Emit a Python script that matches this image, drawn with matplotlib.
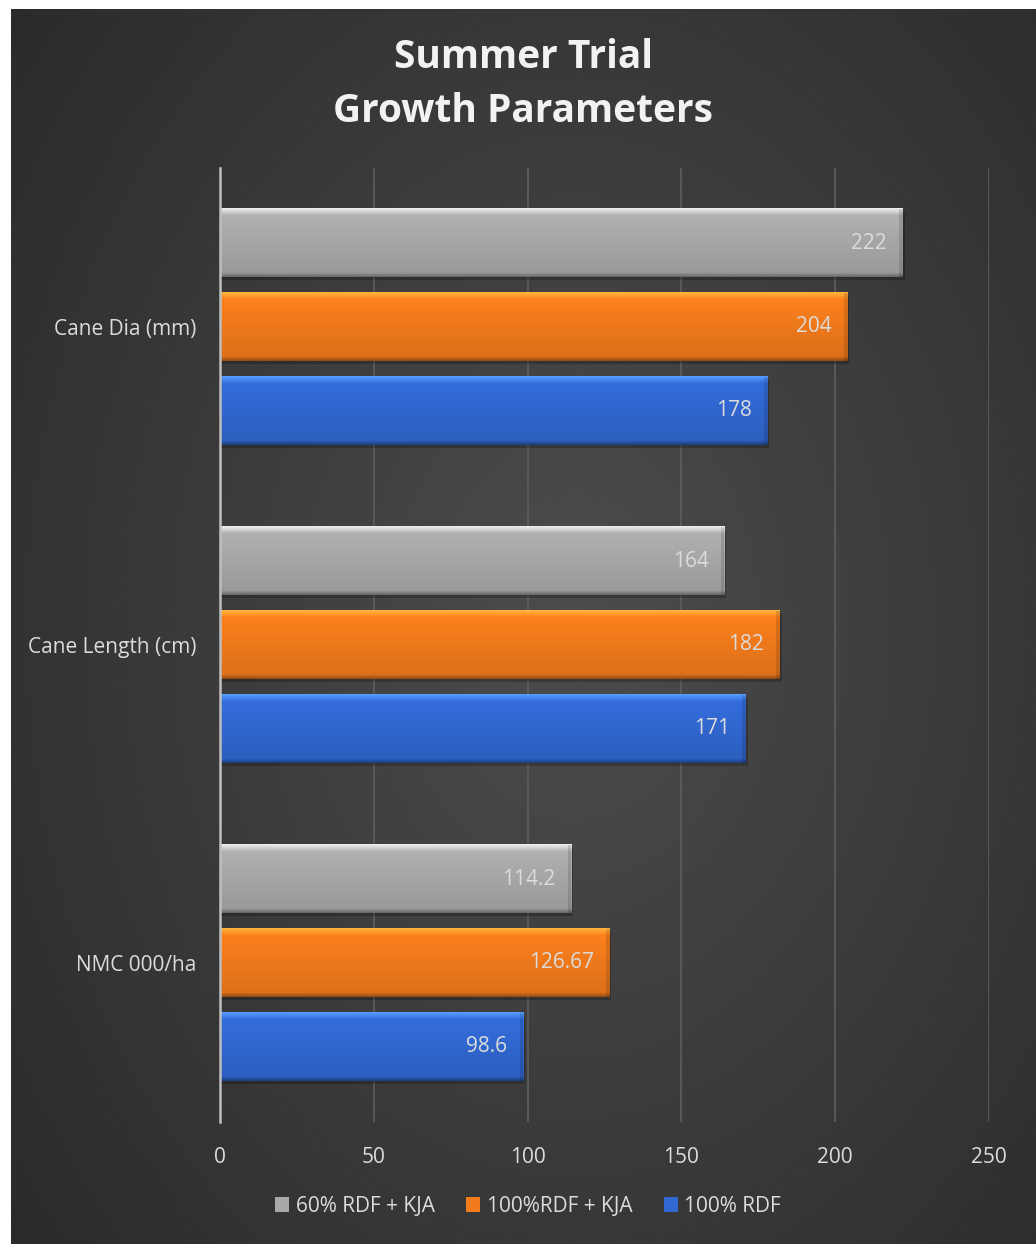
import numpy as np
import matplotlib
matplotlib.use("Agg")
import matplotlib.pyplot as plt
from matplotlib.patches import Patch
from matplotlib.colors import to_rgb

plt.rcParams['font.family'] = ['Open Sans', 'DejaVu Sans']

# data
categories = ['NMC 000/ha', 'Cane Length (cm)', 'Cane Dia (mm)']
series = ['60% RDF + KJA', '100%RDF + KJA', '100% RDF']
rdf60_kja = [114.2, 164, 222]
rdf100_kja = [126.67, 182, 204]
rdf100 = [98.6, 171, 178]
labels = [['114.2', '164', '222'], ['126.67', '182', '204'], ['98.6', '171', '178']]

colors = ['#a9a9a9', '#f27b1c', '#3168d2']
values = [rdf60_kja, rdf100_kja, rdf100]
offsets = [0.264, 0.0, -0.264]
bar_h = 0.214
text_col = '#dcdcdc'

W, H = 1036, 1244
fig = plt.figure(figsize=(W / 100, H / 100), dpi=100)
fig.patch.set_facecolor('white')

# dark radial background panel
bg = fig.add_axes([11 / W, 0, 1 - 11 / W, 1 - 9 / H], zorder=0)
yy, xx = np.mgrid[0:1:800j, 0:1:800j]
r = np.sqrt(((xx - 0.55) / 0.75) ** 2 + ((yy - 0.5) / 0.85) ** 2)
shade = np.clip(0.30 - 0.14 * r, 0.15, 0.30)
bg.imshow(shade, cmap='gray', vmin=0, vmax=1, extent=(0, 1, 0, 1), aspect='auto',
          origin='lower', interpolation='bicubic')
bg.axis('off')

ax = fig.add_axes([220 / W, 1 - 1122 / H, 769 / W, (1122 - 168) / H], zorder=1)
ax.patch.set_alpha(0)
ax.set_xlim(0, 250)
ax.set_ylim(-0.5, 2.5)

ypos = np.arange(len(categories))


def bar_gradient(c, n=68):
    base = np.array(to_rgb(c))
    t = np.linspace(0, 1, n)[:, None]
    g = base * (1.06 - 0.16 * t)
    hi = np.clip(base * 1.25 + 0.1, 0, 1)
    for i in range(7):
        w = 1 - i / 7
        g[i] = hi * w + g[i] * (1 - w)
    for i in range(4):
        w = (i + 1) / 4
        g[-4 + i] = g[-4 + i] * (1 - 0.3 * w)
    return np.clip(g, 0, 1)[:, None, :]


for vals, col, off, labs in zip(values, colors, offsets, labels):
    grad = bar_gradient(col)
    for y, v, lab in zip(ypos, vals, labs):
        yc = y + off
        # soft shadow under the bar
        ax.barh(yc - 0.01, v + 0.6, height=bar_h, left=0, color='black', alpha=0.22,
                zorder=2, linewidth=0)
        ax.imshow(grad, extent=(0, v, yc - bar_h / 2, yc + bar_h / 2), aspect='auto',
                  zorder=3, interpolation='bilinear')
        # darker bevel at the bar end
        ax.barh(yc, 1.2, left=v - 1.2, height=bar_h, color='black', alpha=0.12,
                zorder=4, linewidth=0)
        ax.text(v - 5.2, yc, lab, ha='right', va='center', color=text_col,
                fontsize=15, zorder=5)

ax.set_aspect('auto')
ax.set_xlim(0, 250)
ax.set_ylim(-0.5, 2.5)

ax.set_xticks(np.arange(0, 251, 50))
ax.set_yticks(ypos)
ax.set_yticklabels(categories)
ax.tick_params(axis='both', length=0, colors=text_col, labelsize=15)
ax.tick_params(axis='y', pad=17)
ax.tick_params(axis='x', pad=18)
ax.grid(axis='x', color='#5e5e5e', linewidth=1.2, zorder=1)
ax.set_axisbelow(True)
for s in ['top', 'right', 'bottom']:
    ax.spines[s].set_visible(False)
ax.spines['left'].set_color('#bfbfbf')
ax.spines['left'].set_linewidth(1.8)
ax.spines['left'].set_zorder(6)

fig.text(523 / W, 1 - 84 / H, 'Summer Trial\nGrowth Parameters', ha='center', va='center',
         color='#f2f2f2', fontsize=28, fontweight='bold', linespacing=1.5)

handles = [Patch(facecolor=c, edgecolor='none') for c in colors]
leg = fig.legend(handles, series, loc='center', bbox_to_anchor=(528 / W, 1 - 1206 / H),
                 ncol=3, frameon=False, fontsize=15, handlelength=0.7, handleheight=0.7,
                 handletextpad=0.3, columnspacing=1.5)
for t in leg.get_texts():
    t.set_color(text_col)

fig.savefig('out.png', dpi=100)
